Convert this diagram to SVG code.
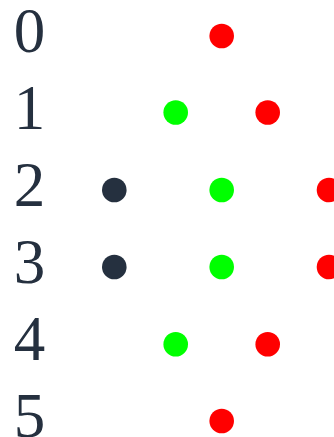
<svg xmlns="http://www.w3.org/2000/svg" width="334" height="437" viewBox="0 0 334 437">
<style>
.lbl{font-family:"Liberation Serif","DejaVu Serif",serif;font-size:63px;fill:#25303f;text-anchor:middle}
.r{fill:#ff0000}.g{fill:#00ff00}.k{fill:#25303f}
</style>
<rect width="334" height="437" fill="#ffffff"/>
<g id="labels">
<text class="lbl" x="29.5" y="52">0</text>
<text class="lbl" x="29.5" y="129">1</text>
<text class="lbl" x="29.5" y="206">2</text>
<text class="lbl" x="29.5" y="283">3</text>
<text class="lbl" x="29.5" y="360">4</text>
<text class="lbl" x="29.5" y="437">5</text>
</g>
<g id="connectors"></g>
<g id="n0r"><circle class="r" cx="221.7" cy="36" r="12.3"/></g>
<g id="n1g"><circle class="g" cx="175.7" cy="112.5" r="12.3"/></g>
<g id="n1r"><circle class="r" cx="267.7" cy="112.5" r="12.3"/></g>
<g id="n2k"><circle class="k" cx="114.3" cy="190" r="12.3"/></g>
<g id="n2g"><circle class="g" cx="221.7" cy="190" r="12.3"/></g>
<g id="n2r"><circle class="r" cx="329" cy="190" r="12.3"/></g>
<g id="n3k"><circle class="k" cx="114.3" cy="267" r="12.3"/></g>
<g id="n3g"><circle class="g" cx="221.7" cy="267" r="12.3"/></g>
<g id="n3r"><circle class="r" cx="329" cy="267" r="12.3"/></g>
<g id="n4g"><circle class="g" cx="175.7" cy="344.3" r="12.3"/></g>
<g id="n4r"><circle class="r" cx="267.7" cy="344.3" r="12.3"/></g>
<g id="n5r"><circle class="r" cx="221.7" cy="421" r="12.3"/></g>
</svg>
